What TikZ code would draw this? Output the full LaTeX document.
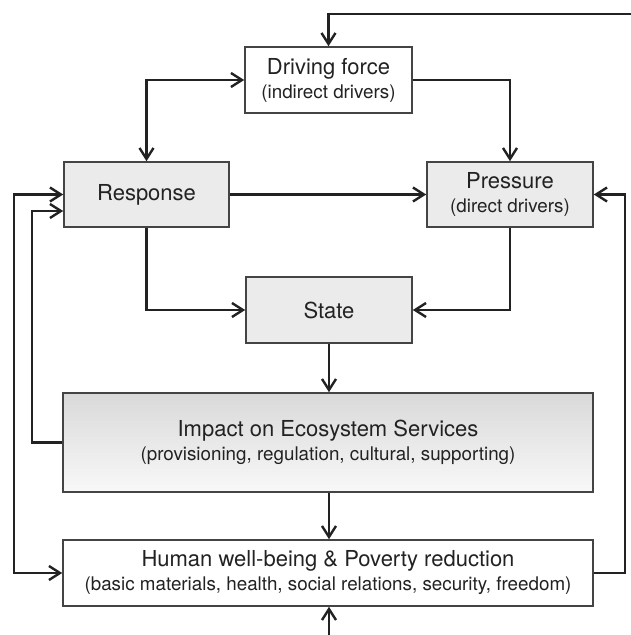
\documentclass[tikz,border=0pt]{standalone}
\usepackage{fontspec}
\setmainfont{TeX Gyre Heros}
\usetikzlibrary{arrows.meta,calc}
\definecolor{boxgray}{HTML}{EBEBEB}
\definecolor{linegray}{HTML}{222222}
\definecolor{bordergray}{HTML}{444444}
\definecolor{gradtop}{HTML}{D9D9D9}
\definecolor{gradbot}{HTML}{F8F8F8}
\newcommand{\mainsz}{\fontsize{22}{25}\selectfont}
\newcommand{\subsz}{\fontsize{18.8}{25}\selectfont}
\tikzset{
  box/.style={draw=bordergray, line width=1.6pt, rectangle, align=center,
    text=linegray, inner sep=0pt, font=\mainsz},
  conn/.style={draw=linegray, line width=2.4pt, line join=miter,
    arrows={-Straight Barb[length=11pt,width=14pt,line width=2.4pt]}},
  conn2/.style={draw=linegray, line width=2.4pt, line join=miter,
    arrows={Straight Barb[length=11pt,width=14pt,line width=2.4pt]-Straight Barb[length=11pt,width=14pt,line width=2.4pt]}}
}
\begin{document}
\begin{tikzpicture}[x=1pt,y=-1pt]
\useasboundingbox (0,0) rectangle (631,635);
\fill[white] (0,0) rectangle (631,635);
\node[box, fill=white, minimum width=167pt, minimum height=66pt] (DF) at (328.5,80)
  {Driving force\\[-1pt]{\subsz (indirect drivers)}};
\node[box, fill=boxgray, minimum width=165pt, minimum height=65pt] (Resp) at (146.5,194.5)
  {Response};
\node[box, fill=boxgray, minimum width=166pt, minimum height=65pt] (Press) at (510,194.5)
  {Pressure\\[-1pt]{\subsz (direct drivers)}};
\node[box, fill=boxgray, minimum width=166pt, minimum height=66pt] (State) at (329,310)
  {State};
\node[box, top color=gradtop, bottom color=gradbot, minimum width=530pt, minimum height=99pt] (Imp) at (328,442.5)
  {Impact on Ecosystem Services\\[-1pt]{\subsz (provisioning, regulation, cultural, supporting)}};
\node[box, fill=white, minimum width=530pt, minimum height=66pt] (Hum) at (328,573)
  {Human well-being \& Poverty reduction\\[-1pt]{\subsz (basic materials, health, social relations, security, freedom)}};
\coordinate (topR) at (632,14);
\coordinate (botS) at (329,636);
\draw[conn] (topR) -| (DF.north);
\draw[conn2] (Resp.north) |- (DF.west);
\draw[conn] (DF.east) -| (Press.north);
\draw[conn] (Resp.east) -- (Press.west);
\draw[conn] (Resp.south) |- (State.west);
\draw[conn] (Press.south) |- (State.east);
\draw[conn] (State.south) -- (State.south |- Imp.north);
\draw[conn] (Imp.south -| State.south) -- (Hum.north -| State.south);
\draw[conn] (Imp.west) -| (32,300) |- ($(Resp.west)+(0,16.5)$);
\draw[conn2] (Hum.west) -| (14,300) |- (Resp.west);
\draw[conn] (Hum.east) -| (625,300) |- (Press.east);
\draw[conn] (botS) -- (botS |- Hum.south);
\end{tikzpicture}
\end{document}
